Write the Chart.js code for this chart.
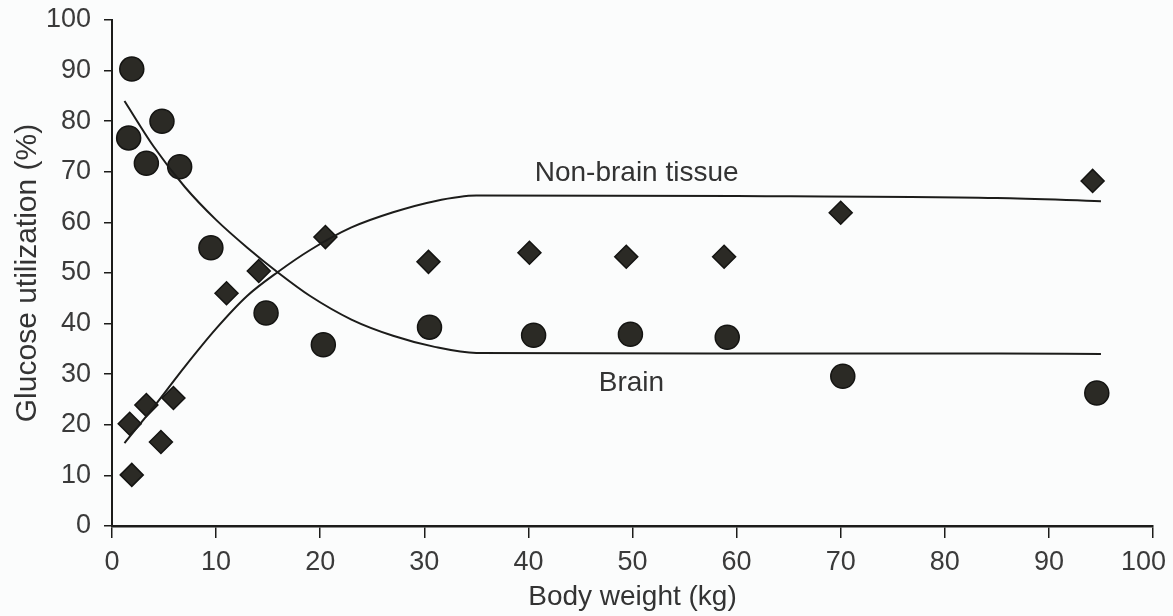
<!DOCTYPE html>
<html>
<head>
<meta charset="utf-8">
<script src="https://cdn.jsdelivr.net/npm/chart.js@4.4.1/dist/chart.umd.min.js"></script>
<style>
  html, body { margin: 0; padding: 0; background: #fbfcfc; }
  #wrap { width: 1173px; height: 616px; }
</style>
</head>
<body>
<div id="wrap"><canvas id="c" width="1173" height="616"></canvas></div>
<script>
// Observed points (body weight kg, % glucose utilization)
const brainX = [1.9, 1.6, 3.3, 4.8, 6.5, 9.5, 14.8, 20.3, 30.5, 40.5, 49.8, 59.1, 70.2, 94.6];
const brainY = [90.3, 76.7, 71.7, 80, 71, 55, 42.1, 35.8, 39.3, 37.7, 37.9, 37.3, 29.6, 26.3];
const nonBrainX = [1.7, 1.9, 3.3, 4.7, 5.9, 11, 14.1, 20.5, 30.4, 40.1, 49.4, 58.8, 70, 94.2];
const nonBrainY = [20.2, 10.1, 23.9, 16.6, 25.3, 46, 50.4, 57.1, 52.2, 54, 53.2, 53.2, 61.9, 68.2];

// Fitted curves
const curveX = [1.2, 4, 7, 10, 13, 16, 19, 23, 27, 31, 35, 60, 85, 95];
const brainCurveY = [84, 75, 67, 60.5, 55, 50, 45.5, 40.8, 37.6, 35.4, 34.2, 34.1, 34.1, 34];
const nonBrainCurveY = [16.4, 23.5, 31.5, 39, 45.5, 50.3, 54.5, 59, 62, 64.2, 65.3, 65.2, 64.8, 64.2];

// Axis ticks
const xTicks = [0, 10, 20, 30, 40, 50, 60, 70, 80, 90, 100];
const yTicks = [0, 10, 20, 30, 40, 50, 60, 70, 80, 90, 100];

// Curve labels
const curveLabels = ["Non-brain tissue", "Brain"];

const pts = (xs, ys) => xs.map((x, i) => ({ x: x, y: ys[i] }));

const labelPlugin = {
  id: 'curveLabels',
  afterDatasetsDraw(chart) {
    const ctx = chart.ctx;
    const xs = chart.scales.x, ys = chart.scales.y;
    const pos = [[50.4, 69.8], [49.9, 28.3]];
    ctx.save();
    ctx.font = '28px "Liberation Sans", Arial, sans-serif';
    ctx.fillStyle = '#333333';
    ctx.textAlign = 'center';
    ctx.textBaseline = 'middle';
    curveLabels.forEach((t, i) => {
      ctx.fillText(t, xs.getPixelForValue(pos[i][0]), ys.getPixelForValue(pos[i][1]));
    });
    ctx.restore();
  }
};

const tickFont = { family: '"Liberation Sans", Arial, sans-serif', size: 27 };
const ink = '#1c1c1a';

new Chart(document.getElementById('c'), {
  type: 'scatter',
  data: {
    datasets: [
      {
        label: 'Brain fit', type: 'line', data: pts(curveX, brainCurveY),
        borderColor: ink, borderWidth: 2, pointRadius: 0, fill: false,
        cubicInterpolationMode: 'monotone'
      },
      {
        label: 'Non-brain fit', type: 'line', data: pts(curveX, nonBrainCurveY),
        borderColor: ink, borderWidth: 2, pointRadius: 0, fill: false,
        cubicInterpolationMode: 'monotone'
      },
      {
        label: 'Brain', data: pts(brainX, brainY),
        pointStyle: 'circle', pointRadius: 12, pointBorderWidth: 1.5,
        backgroundColor: '#2b2a25', borderColor: '#141412'
      },
      {
        label: 'Non-brain tissue', data: pts(nonBrainX, nonBrainY),
        pointStyle: 'rectRot', pointRadius: 11.5, pointBorderWidth: 1.5,
        backgroundColor: '#2b2a25', borderColor: '#141412'
      }
    ]
  },
  options: {
    responsive: false,
    animation: false,
    layout: { padding: { top: 20, right: 20, bottom: 2, left: 0 } },
    plugins: {
      legend: { display: false },
      tooltip: { enabled: false }
    },
    scales: {
      x: {
        type: 'linear', min: 0, max: 100,
        afterBuildTicks: (s) => { s.ticks = xTicks.map(v => ({ value: v })); },
        afterFit: (s) => { s.height = 88; s.paddingLeft = 0; s.paddingRight = 0; },
        ticks: {
          font: tickFont, color: '#3a3a3a', padding: 8, maxRotation: 0,
          callback: (v) => (v === 100 ? '100\u2002\u2009' : String(v))
        },
        grid: { display: true, drawOnChartArea: false, drawTicks: true, tickLength: 12, color: ink, lineWidth: 1.5 },
        border: { display: true, color: ink, width: 2.5 },
        title: {
          display: true, text: 'Body weight (kg)', color: '#333333',
          font: { family: '"Liberation Sans", Arial, sans-serif', size: 28 },
          padding: { top: 0, bottom: 0 }
        }
      },
      y: {
        type: 'linear', min: 0, max: 100,
        afterBuildTicks: (s) => { s.ticks = yTicks.map(v => ({ value: v })); },
        afterFit: (s) => { s.width = 112; s.paddingTop = 0; s.paddingBottom = 0; },
        ticks: { font: tickFont, color: '#3a3a3a', padding: 13 },
        grid: { display: true, drawOnChartArea: false, drawTicks: true, tickLength: 8, color: ink, lineWidth: 1.5 },
        border: { display: true, color: ink, width: 2 },
        title: {
          display: true, text: 'Glucose utilization (%)', color: '#333333',
          font: { family: '"Liberation Sans", Arial, sans-serif', size: 30 },
          padding: { top: 10, bottom: 0 }
        }
      }
    }
  },
  plugins: [labelPlugin]
});
</script>
</body>
</html>
